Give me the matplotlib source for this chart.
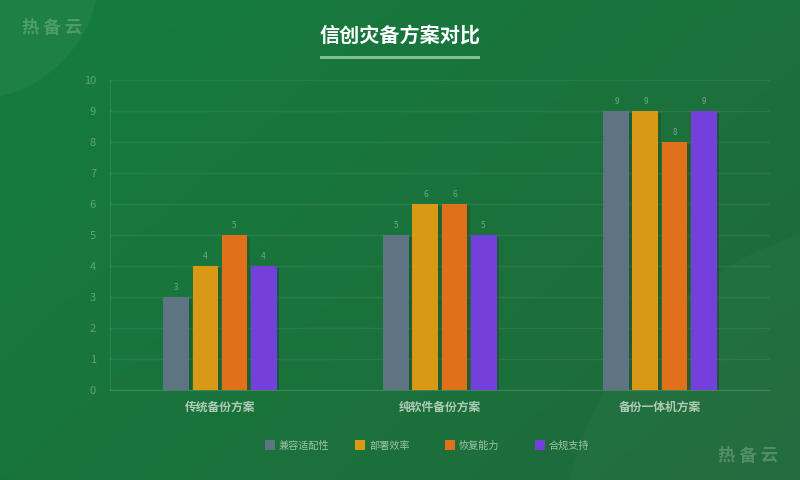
import numpy as np
import matplotlib
matplotlib.use("Agg")
import matplotlib.pyplot as plt
import matplotlib.patheffects as pe
from matplotlib.patches import Circle, Rectangle

plt.rcParams['font.family'] = ['Noto Sans CJK SC', 'DejaVu Sans']

# data
categories = ['传统备份方案', '纯软件备份方案', '备份一体机方案']
series_names = ['兼容适配性', '部署效率', '恢复能力', '合规支持']
compat = [3, 5, 9]
deploy = [4, 6, 9]
recover = [5, 6, 8]
comply = [4, 5, 9]
series_values = [compat, deploy, recover, comply]
colors = ['#5e7482', '#d99914', '#e0701c', '#7340db']

fig = plt.figure(figsize=(8, 4.8), dpi=100)

# background gradient (pixel coords)
bg = fig.add_axes([0, 0, 1, 1], zorder=-10)
gx, gy = np.meshgrid(np.linspace(0, 1, 200), np.linspace(0, 1, 120))
t = (gx * 0.6 + gy * 0.4)
c0 = np.array([0x15, 0x7d, 0x3d]) / 255
c1 = np.array([0x1f, 0x69, 0x3b]) / 255
img = c0[None, None, :] * (1 - t[..., None]) + c1[None, None, :] * t[..., None]
bg.imshow(img, extent=[0, 800, 480, 0], aspect='auto')
bg.add_patch(Circle((-30, -30), 130, color='white', alpha=0.04, linewidth=0))
bg.add_patch(Circle((900, 560), 340, color='white', alpha=0.025, linewidth=0))
bg.set_xlim(0, 800)
bg.set_ylim(480, 0)
bg.axis('off')

ax = fig.add_axes([0.1375, 0.1875, 0.825, 0.6458])
ax.set_facecolor('none')

x = np.arange(len(categories))
width = 0.118
step = 0.132
for i, (name, vals, col) in enumerate(zip(series_names, series_values, colors)):
    off = (i - 1.5) * step
    bars = ax.bar(x + off, vals, width, color=col, label=name, zorder=3,
                  path_effects=[pe.SimplePatchShadow(offset=(1.5, -1.5), alpha=0.25), pe.Normal()])
    for b, v in zip(bars, vals):
        ax.text(b.get_x() + b.get_width() / 2, v + 0.15, str(v), ha='center', va='bottom',
                fontsize=6, color='#74a682', zorder=4)

ax.set_xlim(-0.5, 2.5)
ax.set_ylim(0, 10)
ax.set_yticks(range(0, 11))
ax.grid(axis='y', color='#ffffff', alpha=0.07, linewidth=1, zorder=0)
ax.set_xticks(x)
ax.set_xticklabels(categories, fontsize=8.5, fontweight='bold', color='#afcbb8')
ax.tick_params(axis='x', length=0, pad=8)
ax.tick_params(axis='y', length=0, labelsize=8, labelcolor='#5fa574', pad=10)
for s in ['top', 'right']:
    ax.spines[s].set_visible(False)
ax.spines['left'].set_color('#ffffff')
ax.spines['left'].set_alpha(0.1)
ax.spines['bottom'].set_color('#ffffff')
ax.spines['bottom'].set_alpha(0.15)

# title
bg.text(400, 35, '信创灾备方案对比', ha='center', va='center', fontsize=14.5,
        fontweight='bold', color='white')
bg.add_patch(Rectangle((320, 55.5), 160, 3, color='#8cc99b', alpha=0.9, linewidth=0))

# legend
for i, (name, col) in enumerate(zip(series_names, colors)):
    lx = 265 + i * 90
    bg.add_patch(Rectangle((lx, 440), 10, 10, color=col, linewidth=0))
    bg.text(lx + 14, 446, name, ha='left', va='center', fontsize=7.3, color='#9cc5a7')

# watermarks
for wx, wy, ha in [(22, 28, 'left'), (778, 456, 'right')]:
    bg.text(wx, wy, '热 备 云', ha=ha, va='center', fontsize=12.5, fontweight='bold',
            color='white', alpha=0.22)

fig.savefig('out.png', dpi=100)
